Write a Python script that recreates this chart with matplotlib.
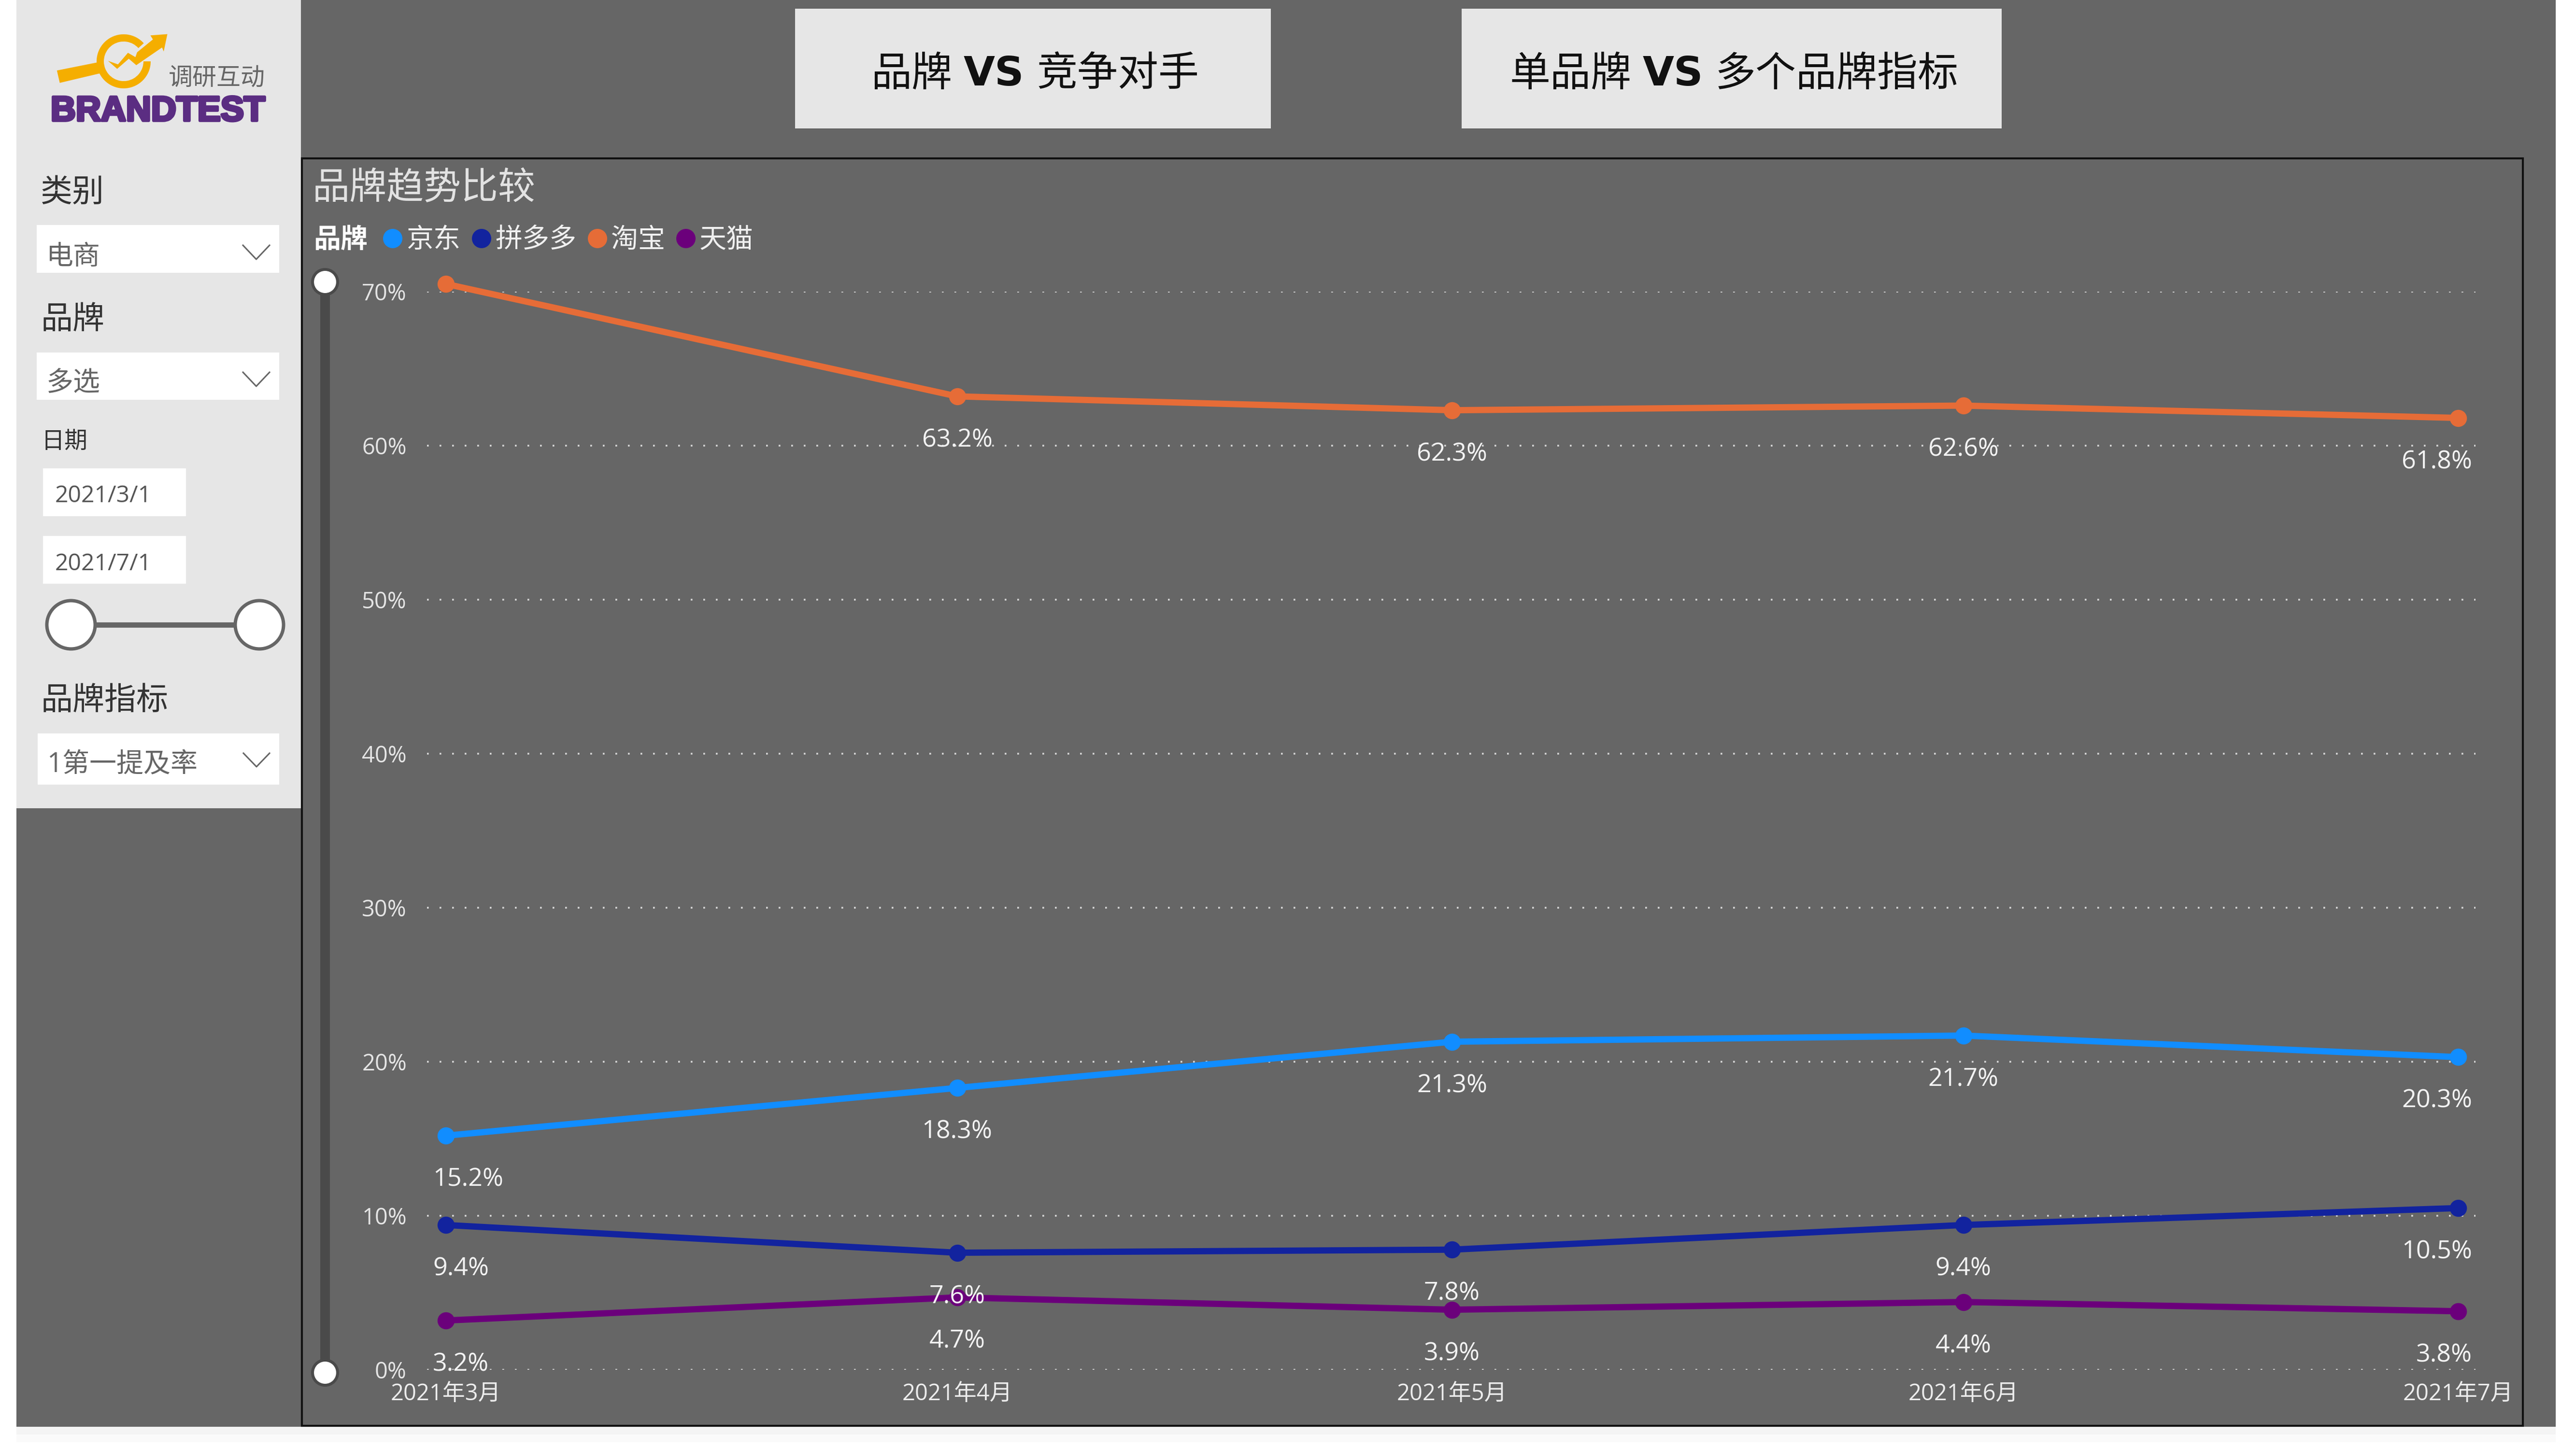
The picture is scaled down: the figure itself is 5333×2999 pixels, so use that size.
import datetime as dt
import matplotlib as mpl
mpl.use('Agg')
import matplotlib.pyplot as plt
import matplotlib.dates as mdates
import matplotlib.patheffects as pe
from matplotlib.patches import Rectangle, Circle, Polygon, Wedge

plt.rcParams['font.family'] = ['Open Sans', 'Noto Sans CJK SC']

W = 5333
H = 2999

months = [dt.date(2021, 3, 1), dt.date(2021, 4, 1), dt.date(2021, 5, 1),
          dt.date(2021, 6, 1), dt.date(2021, 7, 1)]
month_labels = ['2021年3月', '2021年4月', '2021年5月', '2021年6月', '2021年7月']
brands = ['京东', '拼多多', '淘宝', '天猫']
jd = [15.2, 18.3, 21.3, 21.7, 20.3]
pdd = [9.4, 7.6, 7.8, 9.4, 10.5]
taobao = [70.5, 63.2, 62.3, 62.6, 61.8]
tmall = [3.2, 4.7, 3.9, 4.4, 3.8]
colors = ['#118dff', '#12239e', '#e66c37', '#6b007b']
y_ticks = [0, 10, 20, 30, 40, 50, 60, 70]

BG = '#666666'
PANEL = '#e6e6e6'


def px(size):
    # font size in pixels to points at dpi 100
    return size * 0.72


def box(ui, x0, y0, x1, y1, color, z=1):
    ui.add_patch(Rectangle((x0, y0), x1 - x0, y1 - y0, fc=color, ec='none', zorder=z))


def chevron(ui, x0, x1, y0, y1):
    ui.plot([x0, (x0 + x1) / 2, x1], [y0, y1, y0], color='#666666', lw=2.2, zorder=3)


def logo_pt(points):
    return [(60 + a / 2.904, 40 + b / 3) for a, b in points]


fig = plt.figure(figsize=(W / 100, H / 100), dpi=100, facecolor='white')

# page furniture in pixel coordinates
ui = fig.add_axes([0, 0, 1, 1], zorder=0)
ui.set_xlim(0, W)
ui.set_ylim(H, 0)
ui.axis('off')

for i in range(8):
    box(ui, 34, 2955 + i * 4, 5291, 2959 + i * 4, '#f4f4f4' if i < 4 else '#fafafa', z=0)
box(ui, 34, 0, 5291, 2955, BG)
box(ui, 34, 0, 623, 1674, PANEL, z=2)

# logo
ui.add_patch(Wedge((256, 127), 56, 0, 318, width=15, fc='#f5ae00', ec='none', zorder=3))
ui.add_patch(Polygon(logo_pt([(168, 318), (410, 268), (430, 335), (185, 395)]),
                     fc='#f5ae00', ec='none', zorder=3))
ui.add_patch(Polygon(logo_pt([(475, 258), (530, 308), (600, 245), (645, 285), (800, 175),
                              (810, 200), (832, 92), (730, 100), (745, 125), (650, 205),
                              (640, 235), (595, 208), (535, 280)]),
                     fc='#f5ae00', ec='none', zorder=3))
ui.text(449, 163, '调研互动', fontsize=px(50), color='#666666', ha='center', va='center', zorder=3)
ui.text(327, 231, 'BRANDTEST', fontsize=px(72), color='#5b2d82', ha='center', va='center',
        family='Liberation Sans', fontweight='bold', zorder=3,
        path_effects=[pe.withStroke(linewidth=4, foreground='#5b2d82')])

# slicers
ui.text(84, 401, '类别', fontsize=px(66), color='#333333', va='center', zorder=3)
box(ui, 76, 466, 578, 565, 'white', z=2)
ui.text(96, 533, '电商', fontsize=px(56), color='#666666', va='center', zorder=3)
chevron(ui, 503, 558, 508, 537)

ui.text(84, 664, '品牌', fontsize=px(66), color='#333333', va='center', zorder=3)
box(ui, 76, 730, 578, 828, 'white', z=2)
ui.text(96, 795, '多选', fontsize=px(56), color='#666666', va='center', zorder=3)
chevron(ui, 503, 558, 771, 800)

ui.text(86, 916, '日期', fontsize=px(48), color='#333333', va='center', zorder=3)
box(ui, 89, 970, 385, 1069, 'white', z=2)
ui.text(114, 1027, '2021/3/1', fontsize=px(48), color='#555555', va='center', zorder=3)
box(ui, 89, 1110, 385, 1209, 'white', z=2)
ui.text(114, 1168, '2021/7/1', fontsize=px(48), color='#555555', va='center', zorder=3)
ui.plot([147, 537], [1294, 1294], color='#666666', lw=px(11), solid_capstyle='butt', zorder=3)
for cx in [147, 537]:
    ui.add_patch(Circle((cx, 1294), 50, fc='white', ec='#666666', lw=px(7), zorder=4))

ui.text(84, 1453, '品牌指标', fontsize=px(66), color='#333333', va='center', zorder=3)
box(ui, 78, 1519, 578, 1625, 'white', z=2)
ui.text(98, 1585, '1第一提及率', fontsize=px(56), color='#666666', va='center', zorder=3)
chevron(ui, 504, 558, 1560, 1588)

# top buttons
box(ui, 1646, 18, 2631, 266, PANEL, z=2)
box(ui, 3026, 18, 4144, 266, PANEL, z=2)
for x, txt, weight in [(1803, '品牌', 'normal'), (1995, 'VS', 'bold'), (2147, '竞争对手', 'normal'),
                       (3126, '单品牌', 'normal'), (3401, 'VS', 'bold'), (3551, '多个品牌指标', 'normal')]:
    ui.text(x, 153, txt, fontsize=px(84), color='#111111', va='center', fontweight=weight, zorder=3,
            family='DejaVu Sans' if txt == 'VS' else 'Noto Sans CJK SC')

# visual frame, title, legend
ui.add_patch(Rectangle((625, 328), 5223 - 625, 2953 - 328, fc='none', ec='#111111', lw=3, zorder=3))
ui.text(647, 392, '品牌趋势比较', fontsize=px(77), color='#e2e2e2', va='center', zorder=3)
ui.text(649, 498, '品牌', fontsize=px(56), color='white', fontweight='bold', va='center', zorder=3)
legend_dots = [813, 997, 1237, 1420]
for cx, name, col in zip(legend_dots, brands, colors):
    ui.add_patch(Circle((cx, 494), 20, fc=col, ec='none', zorder=3))
    ui.text(cx + 28, 498, name, fontsize=px(56), color='#f0f0f0', va='center', zorder=3)

# zoom slider on the y axis
ui.plot([673, 673], [584, 2843], color='#4a4a4a', lw=px(20), solid_capstyle='butt', zorder=3)
for cy in [584, 2843]:
    ui.add_patch(Circle((673, cy), 26, fc='white', ec='#4a4a4a', lw=px(6), zorder=4))

# chart
ax = fig.add_axes([884 / W, 1 - 2837 / H, (5125 - 884) / W, (2837 - 604) / H], zorder=1)
ax.patch.set_alpha(0)
x = mdates.date2num(months)
ax.set_xlim(x[0] - 1.14, x[-1] + 1.05)
ax.set_ylim(0, 70)

for i, (vals, col) in enumerate(zip([jd, pdd, taobao, tmall], colors)):
    ax.plot(x, vals, color=col, lw=px(13), marker='o', ms=px(34), clip_on=False, zorder=3 + i * 0.1,
            solid_capstyle='round')
    for j, v in enumerate(vals):
        if j == 0:
            dx, ha = -27, 'left'
        elif j == len(vals) - 1:
            dx, ha = 29, 'right'
        else:
            dx, ha = 0, 'center'
        ax.annotate('%.1f%%' % v, (x[j], v), xytext=(px(dx), px(-91)), textcoords='offset points',
                    ha=ha, va='center', fontsize=px(52), color='#f2f2f2', zorder=5)

ax.set_yticks(y_ticks, ['%d%%' % t for t in y_ticks])
ax.set_xticks(x, month_labels)
ax.tick_params(axis='y', length=0, pad=px(42), labelsize=px(47), labelcolor='#e4e4e4')
ax.tick_params(axis='x', length=0, pad=px(27), labelsize=px(47), labelcolor='#ececec')
ax.grid(axis='y', color='#d8d8d8', lw=2.6, linestyle=(0, (1, 6.2)))
ax.set_axisbelow(True)
for s in ax.spines.values():
    s.set_visible(False)

fig.savefig('out.png', dpi=100)
